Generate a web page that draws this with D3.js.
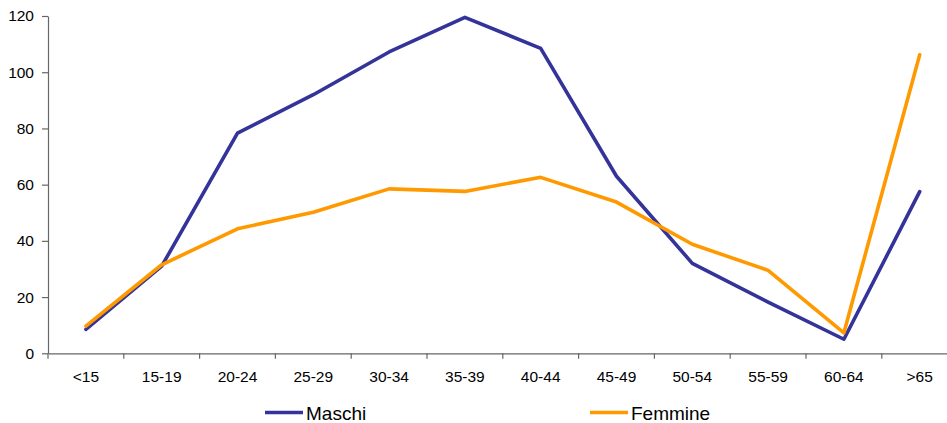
<!DOCTYPE html>
<html><head><meta charset="utf-8">
<script src="https://cdn.jsdelivr.net/npm/d3@7"></script>
<style>body{margin:0;background:#fff;} svg{display:block;}</style>
</head><body>
<svg id="c" width="947" height="423"></svg>
<script>
const categories = ["<15","15-19","20-24","25-29","30-34","35-39","40-44","45-49","50-54","55-59","60-64",">65"];
const maschi  = [8.5, 31, 78.3, 92, 107.2, 119.5, 108.5, 63, 32, 18.2, 5, 57.5];
const femmine = [9.7, 31.5, 44.3, 50.2, 58.5, 57.6, 62.6, 53.8, 38.8, 29.5, 7.3, 106.2];
const yTicks = [0,20,40,60,80,100,120];
const seriesNames = ["Maschi","Femmine"];
const colors = ["#333399","#FF9900"];

(function(){
const svg = d3.select("#c");
const font = "Liberation Sans, Arial, sans-serif";
const mLeft = 48, mRight = 957.6, mTop = 16, mBottom = 353.3;
const x = d3.scaleBand().domain(categories).range([mLeft, mRight]);
const y = d3.scaleLinear().domain([0,120]).range([mBottom, mTop]);

// y axis
const ya = svg.append("g").attr("transform",`translate(${mLeft},0)`)
  .call(d3.axisLeft(y).tickValues(yTicks).tickSize(6).tickPadding(8).tickSizeOuter(0));
ya.select(".domain").attr("stroke","#666").attr("stroke-width",1.2);
ya.selectAll(".tick line").attr("stroke","#666").attr("stroke-width",1.2);
ya.selectAll(".tick text").attr("font-family",font).attr("font-size","15.5px").attr("fill","#000");

// x axis
const xa = svg.append("g").attr("transform",`translate(0,${mBottom})`)
  .call(d3.axisBottom(x).tickSize(0).tickPadding(18).tickSizeOuter(0));
xa.select(".domain").attr("stroke","#666").attr("stroke-width",1.2);
xa.selectAll(".tick text").attr("font-family",font).attr("font-size","15.5px").attr("fill","#000");
// tick marks at band boundaries
const edges = categories.map(c => x(c)).concat([x(categories[categories.length-1]) + x.bandwidth()]);
svg.append("g").selectAll("line").data(edges).join("line")
  .attr("x1",d=>d).attr("x2",d=>d).attr("y1",mBottom).attr("y2",mBottom+5.5)
  .attr("stroke","#666").attr("stroke-width",1.2);

// lines
const line = d3.line().x((d,i)=>x(categories[i]) + x.bandwidth()/2).y(d=>y(d));
[maschi, femmine].forEach((s,k)=>{
  svg.append("path").datum(s).attr("d",line).attr("fill","none")
    .attr("stroke",colors[k]).attr("stroke-width",3.6).attr("stroke-linejoin","round").attr("stroke-linecap","round");
});

// legend
const legX = [265, 590];
seriesNames.forEach((n,k)=>{
  const g = svg.append("g").attr("transform",`translate(${legX[k]},412.5)`);
  g.append("line").attr("x1",0).attr("x2",38).attr("y1",0).attr("y2",0)
    .attr("stroke",colors[k]).attr("stroke-width",3.6);
  g.append("text").attr("x",41).attr("y",7).attr("font-family",font).attr("font-size","19px")
    .attr("fill","#000").text(n);
});
})();
</script>
</body></html>
